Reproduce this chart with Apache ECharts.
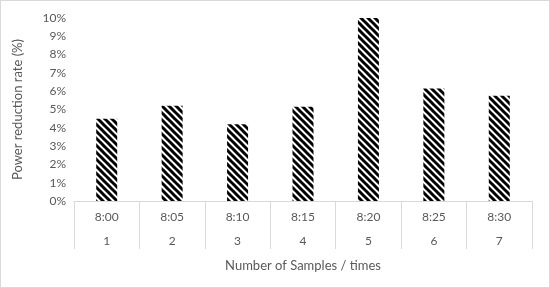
<!DOCTYPE html>
<html>
<head>
<meta charset="utf-8">
<script src="https://cdn.jsdelivr.net/npm/echarts@6/dist/echarts.min.js"></script>
<style>
  html, body { margin: 0; padding: 0; background: #fff; }
  #chart {
    width: 548px;
    height: 286px;
    border: 1px solid #d9d9d9;
  }
</style>
</head>
<body>
<div id="chart"></div>
<script>
// 时间和样本编号 (两层横轴)
const timeLabels = ["8:00", "8:05", "8:10", "8:15", "8:20", "8:25", "8:30"];
const sampleLabels = ["1", "2", "3", "4", "5", "6", "7"];
// 功率降低率 (%)
const reductionRate = [4.5, 5.2, 4.2, 5.15, 10.0, 6.15, 5.75];

// 斜线填充
function makeHatch() {
  const size = 7;
  const c = document.createElement("canvas");
  c.width = size;
  c.height = size;
  const ctx = c.getContext("2d");
  ctx.fillStyle = "#fff";
  ctx.fillRect(0, 0, size, size);
  ctx.strokeStyle = "#000";
  ctx.lineWidth = 3;
  for (let k = -1; k <= 1; k++) {
    ctx.beginPath();
    ctx.moveTo(k * size - 1, -1);
    ctx.lineTo(k * size + size + 1, size + 1);
    ctx.stroke();
  }
  return c;
}

const textColor = "#595959";
const lineColor = "#d9d9d9";
const fontFamily = "Lato, 'Open Sans', sans-serif";

let chart = echarts.init(document.getElementById("chart"));
let options = {
  animation: false,
  textStyle: { fontFamily: fontFamily },
  grid: { left: 73, right: 17, top: 17, bottom: 86 },
  xAxis: [
    {
      type: "category",
      data: timeLabels,
      position: "bottom",
      axisLine: { show: true, lineStyle: { color: lineColor } },
      axisTick: { show: true, length: 48, lineStyle: { color: lineColor } },
      axisLabel: { color: textColor, fontSize: 12, margin: 10 },
    },
    {
      type: "category",
      data: sampleLabels,
      position: "bottom",
      offset: 24,
      axisLine: { show: false },
      axisTick: { show: false },
      axisLabel: { color: textColor, fontSize: 12, margin: 10 },
      name: "Number of Samples / times",
      nameLocation: "middle",
      nameGap: 34,
      nameTextStyle: { color: textColor, fontSize: 13 },
    },
  ],
  yAxis: {
    type: "value",
    min: 0,
    max: 10,
    interval: 1,
    axisLine: { show: false },
    axisTick: { show: false },
    splitLine: { show: false },
    axisLabel: { color: textColor, fontSize: 12, formatter: "{value}%" },
    name: "Power reduction rate (%)",
    nameLocation: "middle",
    nameGap: 50,
    nameTextStyle: { color: textColor, fontSize: 13 },
  },
  series: [
    {
      type: "bar",
      data: reductionRate,
      barWidth: 21,
      itemStyle: {
        color: { image: makeHatch(), repeat: "repeat" },
      },
    },
  ],
};
chart.setOption(options);
</script>
</body>
</html>
